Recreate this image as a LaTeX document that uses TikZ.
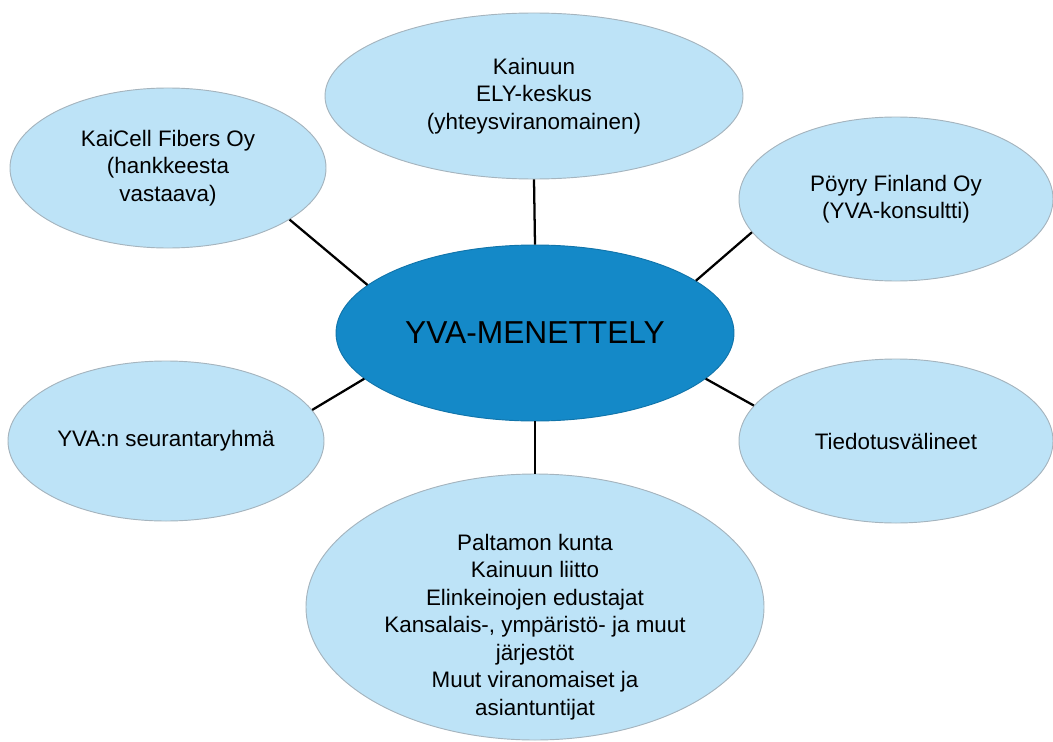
\documentclass[tikz,border=0pt]{standalone}
\usepackage{fontspec}
\setmainfont{Liberation Sans}
\usetikzlibrary{shapes.geometric}

\definecolor{paleblue}{RGB}{189,227,247}
\definecolor{hubblue}{RGB}{20,137,200}
\definecolor{rimgray}{RGB}{165,180,190}

\tikzset{
  party/.style={draw=rimgray, line width=0.7pt, fill=paleblue, ellipse, inner sep=0pt,
    align=center, font=\fontsize{16.8}{20.5}\selectfont},
  hub/.style={draw=hubblue!85!black, line width=0.7pt, fill=hubblue, ellipse, inner sep=0pt,
    font=\fontsize{23.8}{28}\selectfont},
  link/.style={line width=1.7pt}
}

\begin{document}
\begin{tikzpicture}[x=0.75pt,y=-0.75pt]
  \useasboundingbox (0,0) rectangle (1053,742);

  \node[hub, minimum width=298.5pt, minimum height=132pt] (menettely) at (535,333) {YVA-MENETTELY};
  \node[party, minimum width=313.5pt, minimum height=124.5pt] (ely) at (534,96) {Kainuun\\ELY-keskus\\(yhteysviranomainen)};
  \node[party, minimum width=237pt, minimum height=120pt] (kaicell) at (168,168) {KaiCell Fibers Oy\\(hankkeesta\\vastaava)};
  \node[party, minimum width=235.5pt, minimum height=123pt] (poyry) at (896,199) {P\"oyry Finland Oy\\(YVA-konsultti)};
  \node[party, minimum width=237pt, minimum height=120pt] (seuranta) at (166,441) {YVA:n seurantaryhm\"a};
  \node[party, minimum width=235.5pt, minimum height=123pt] (media) at (896,441) {Tiedotusv\"alineet};
  \node[party, minimum width=343.5pt, minimum height=199.5pt] (muut) at (535,607) {};
  \node[align=center, font=\fontsize{16.8}{20.6}\selectfont] (muutText) at (535,627)
    {Paltamon kunta\\Kainuun liitto\\Elinkeinojen edustajat\\Kansalais-, ymp\"arist\"o- ja muut\\j\"arjest\"ot\\Muut viranomaiset ja\\asiantuntijat};

  \draw[link] (kaicell.-23) -- (menettely.164);
  \draw[link] (ely.south) -- (menettely.north);
  \draw[link] (poyry.193) -- (menettely.18);
  \draw[link] (seuranta.12) -- (menettely.195);
  \draw[link] (media.166) -- (menettely.-15);
  \draw[link] (menettely.south) -- (muut.north);
\end{tikzpicture}
\end{document}
